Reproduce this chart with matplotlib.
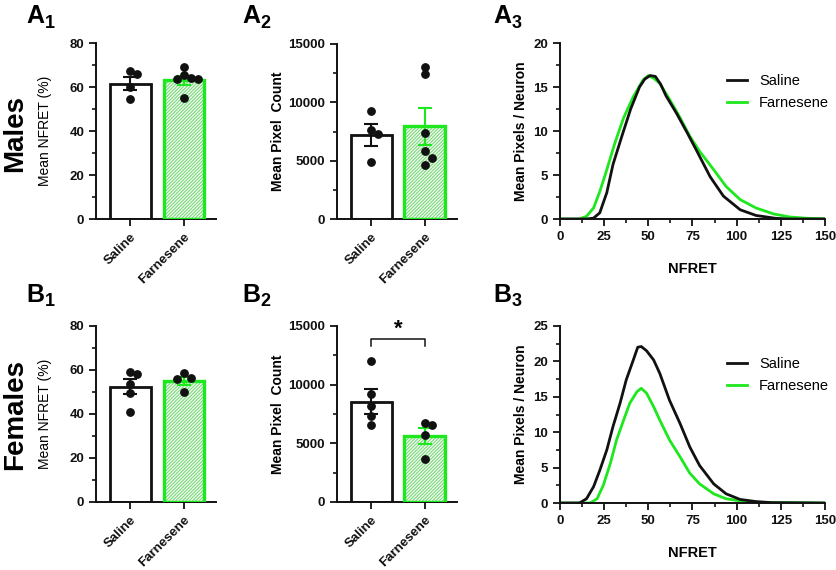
import matplotlib
matplotlib.use("Agg")
import matplotlib.pyplot as plt
import matplotlib.transforms as mtransforms
import numpy as np

plt.rcParams['font.family'] = ['Liberation Sans', 'DejaVu Sans']
plt.rcParams['hatch.linewidth'] = 0.9

BLACK = '#111111'
GREEN = '#1de81d'
HATCH = '#7fdc7f'

groups = ['Saline', 'Farnesene']

# Mean NFRET (%) - individual animals, group means and SEM
males_nfret_saline = [66, 67.5, 60, 54.5]
males_nfret_farn = [65.5, 63.5, 69, 64, 63.5, 55]
males_nfret_mean = [61.5, 63.0]
males_nfret_sem = [3.0, 2.0]

females_nfret_saline = [59.3, 58.1, 53.5, 49.5, 40.8]
females_nfret_farn = [58.8, 55.8, 56.5, 50.2]
females_nfret_mean = [52.5, 55.0]
females_nfret_sem = [3.3, 2.0]

# Mean pixel count
males_pix_saline = [9300, 7600, 7300, 4900]
males_pix_farn = [13050, 12430, 7350, 5790, 5220, 4650]
males_pix_mean = [7190, 7930]
males_pix_sem = [950, 1600]

females_pix_saline = [12020, 9190, 8140, 7290, 6520]
females_pix_farn = [6520, 6720, 5730, 3690]
females_pix_mean = [8540, 5640]
females_pix_sem = [1070, 700]

# NFRET histograms (mean pixels / neuron)
m_sal_x = [0, 15, 19, 22.5, 26.5, 30, 35, 40, 45, 48, 51, 54, 57, 60, 66, 72, 77, 85, 92.5, 102, 111, 122, 130, 150]
m_sal_y = [0, 0, 0.1, 0.7, 3.0, 6.2, 9.4, 12.5, 15.0, 15.9, 16.3, 16.2, 15.3, 14.0, 12.0, 9.8, 7.9, 4.8, 2.6, 1.05, 0.4, 0.08, 0, 0]
m_farn_x = [0, 11, 15, 19, 22.5, 26.5, 31, 36, 41.5, 47, 50, 53, 56.5, 62, 68, 73.5, 79, 87, 94, 102, 111, 121, 130, 140, 150]
m_farn_y = [0, 0, 0.3, 1.25, 3.1, 5.6, 8.6, 11.5, 13.9, 15.8, 16.3, 16.0, 15.4, 13.6, 11.5, 9.4, 7.7, 5.6, 3.7, 2.2, 1.25, 0.57, 0.23, 0.08, 0.03]

f_sal_x = [0, 11, 15, 19, 22.5, 26.5, 30, 34, 37.5, 41.5, 44, 46, 49, 53, 56.5, 62, 68, 73.5, 79, 87, 94, 102, 111, 120, 150]
f_sal_y = [0, 0, 0.6, 2.3, 4.6, 7.5, 10.8, 14.1, 17.4, 20.2, 22.0, 22.1, 21.5, 20.2, 18.3, 14.5, 11.2, 7.9, 5.3, 2.7, 1.3, 0.5, 0.2, 0.05, 0]
f_farn_x = [0, 17, 21, 24.5, 28.5, 32, 36, 39.5, 43.5, 46, 49, 53, 56.5, 62, 68, 73.5, 79, 87, 94, 102, 110, 150]
f_farn_y = [0, 0, 0.6, 2.5, 5.6, 8.9, 11.7, 14.1, 15.7, 16.2, 15.5, 13.6, 11.7, 8.9, 6.5, 4.2, 2.7, 1.3, 0.6, 0.3, 0.1, 0]

FIG_W, FIG_H = 837, 570
fig = plt.figure(figsize=(FIG_W / 100, FIG_H / 100), dpi=100)


def px_axes(left, right, top, bottom):
    return fig.add_axes([left / FIG_W, 1 - bottom / FIG_H,
                         (right - left) / FIG_W, (bottom - top) / FIG_H])


def style_axes(ax):
    for s in ['top', 'right']:
        ax.spines[s].set_visible(False)
    for s in ['left', 'bottom']:
        ax.spines[s].set_linewidth(1.4)
        ax.spines[s].set_color(BLACK)
    ax.tick_params(which='major', length=5, width=1.3, labelsize=9.5, colors=BLACK)
    ax.tick_params(which='minor', length=3, width=1.1)
    for lab in ax.get_xticklabels() + ax.get_yticklabels():
        lab.set_fontweight('bold')


def swarm(ax, xc, vals, diam_px=7.5):
    # simple beeswarm: shift overlapping dots sideways
    placed = []
    order = np.argsort(vals)[::-1]
    xs = np.zeros(len(vals))
    for i in order:
        yp = ax.transData.transform((xc, vals[i]))[1]
        for k in [0, 1, -1, 2, -2, 3, -3]:
            xp = ax.transData.transform((xc, 0))[0] + k * diam_px * 0.95
            if all((xp - a) ** 2 + (yp - b) ** 2 >= (diam_px * 0.95) ** 2 for a, b in placed):
                break
        placed.append((xp, yp))
        xs[i] = ax.transData.inverted().transform((xp, yp))[0]
    return xs


def bar_panel(ax, sal, farn, means, sems, ymax, ystep, ylabel, ylabel_bold):
    ax.set_xlim(-0.64, 1.6)
    ax.set_ylim(0, ymax)
    pos = [0, 1]
    w = 0.76
    ax.bar(pos[0], means[0], w, color='white', edgecolor=BLACK, linewidth=2, zorder=2)
    ax.bar(pos[1], means[1], w, color='white', edgecolor=HATCH, hatch='/' * 10,
           linewidth=0, zorder=2)
    ax.bar(pos[1], means[1], w, fill=False, edgecolor=GREEN, linewidth=2.4, zorder=3)
    ax.errorbar(pos[0], means[0], yerr=sems[0], color=BLACK, capsize=5, elinewidth=1.5,
                capthick=1.5, zorder=4)
    ax.errorbar(pos[1], means[1], yerr=sems[1], color=GREEN, capsize=5, elinewidth=1.5,
                capthick=1.5, zorder=4)
    for p, vals in zip(pos, [sal, farn]):
        xs = swarm(ax, p, vals)
        ax.plot(xs, vals, 'o', color=BLACK, markersize=5.3, zorder=5)
    ax.set_yticks(np.arange(0, ymax + 1, ystep))
    ax.set_yticks(np.arange(ystep / 2, ymax, ystep), minor=True)
    ax.set_xticks(pos)
    ax.set_xticklabels(groups, rotation=45, ha='right', rotation_mode='anchor')
    ax.set_ylabel(ylabel, fontsize=10, fontweight='bold' if ylabel_bold else 'normal')
    style_axes(ax)


def hist_panel(ax, sal_x, sal_y, farn_x, farn_y, ymax, ystep):
    ax.plot(farn_x, farn_y, color=GREEN, linewidth=2, label='Farnesene', zorder=2)
    ax.plot(sal_x, sal_y, color=BLACK, linewidth=2, label='Saline', zorder=3)
    ax.set_xlim(0, 150)
    ax.set_ylim(0, ymax)
    ax.set_xticks(np.arange(0, 151, 25))
    ax.set_xticks(np.arange(12.5, 150, 25), minor=True)
    ax.set_yticks(np.arange(0, ymax + 0.1, ystep))
    ax.set_yticks(np.arange(ystep / 2, ymax, ystep), minor=True)
    ax.set_xlabel('NFRET', fontsize=10.5, fontweight='bold', labelpad=14)
    ax.set_ylabel('Mean Pixels / Neuron', fontsize=10, fontweight='bold')
    h, l = ax.get_legend_handles_labels()
    ax.legend(h[::-1], l[::-1], frameon=False, fontsize=10.5, handlelength=1.4,
              loc='upper left', bbox_to_anchor=(0.58, 0.90), labelspacing=0.55)
    style_axes(ax)


a1 = px_axes(96, 216, 43, 219)
a2 = px_axes(337, 457, 44, 219)
a3 = px_axes(560, 825, 43, 219)
b1 = px_axes(96, 216, 326, 502)
b2 = px_axes(337, 457, 326, 502)
b3 = px_axes(560, 825, 326, 503)

bar_panel(a1, males_nfret_saline, males_nfret_farn, males_nfret_mean, males_nfret_sem,
          80, 20, 'Mean NFRET (%)', False)
bar_panel(a2, males_pix_saline, males_pix_farn, males_pix_mean, males_pix_sem,
          15000, 5000, 'Mean Pixel  Count', True)
hist_panel(a3, m_sal_x, m_sal_y, m_farn_x, m_farn_y, 20, 5)
bar_panel(b1, females_nfret_saline, females_nfret_farn, females_nfret_mean, females_nfret_sem,
          80, 20, 'Mean NFRET (%)', False)
bar_panel(b2, females_pix_saline, females_pix_farn, females_pix_mean, females_pix_sem,
          15000, 5000, 'Mean Pixel  Count', True)
hist_panel(b3, f_sal_x, f_sal_y, f_farn_x, f_farn_y, 25, 5)

# significance bracket in B2
b2.plot([0, 0, 1, 1], [13300, 13900, 13900, 13300], color=BLACK, linewidth=1.1,
         clip_on=False)
b2.text(0.5, 13850, '*', ha='center', va='bottom', fontsize=16, fontweight='bold')

for ax in [a1, b1]:
    ax.yaxis.set_label_coords(-0.365, 0.5)
for ax in [a2, b2]:
    ax.yaxis.set_label_coords(-0.43, 0.5)
for ax in [a3, b3]:
    ax.yaxis.set_label_coords(-0.12, 0.5)

# row titles
fig.text(15 / FIG_W, 1 - 133 / FIG_H, 'Males', rotation=90, fontsize=20,
         fontweight='bold', ha='center', va='center')
fig.text(15 / FIG_W, 1 - 414 / FIG_H, 'Females', rotation=90, fontsize=20,
         fontweight='bold', ha='center', va='center')

# panel letters with subscripts
for letter, sub, x, y in [('A', '1', 26, 23), ('A', '2', 242, 23), ('A', '3', 493, 23),
                          ('B', '1', 26, 302), ('B', '2', 242, 302), ('B', '3', 493, 302)]:
    fig.text(x / FIG_W, 1 - y / FIG_H, letter, fontsize=18, fontweight='bold',
             ha='left', va='baseline')
    tr = mtransforms.offset_copy(fig.transFigure, fig=fig, x=18.5, y=-4.5, units='dots')
    fig.text(x / FIG_W, 1 - y / FIG_H, sub, fontsize=13, fontweight='bold',
             ha='left', va='baseline', transform=tr)

fig.savefig('out.png', dpi=100)
